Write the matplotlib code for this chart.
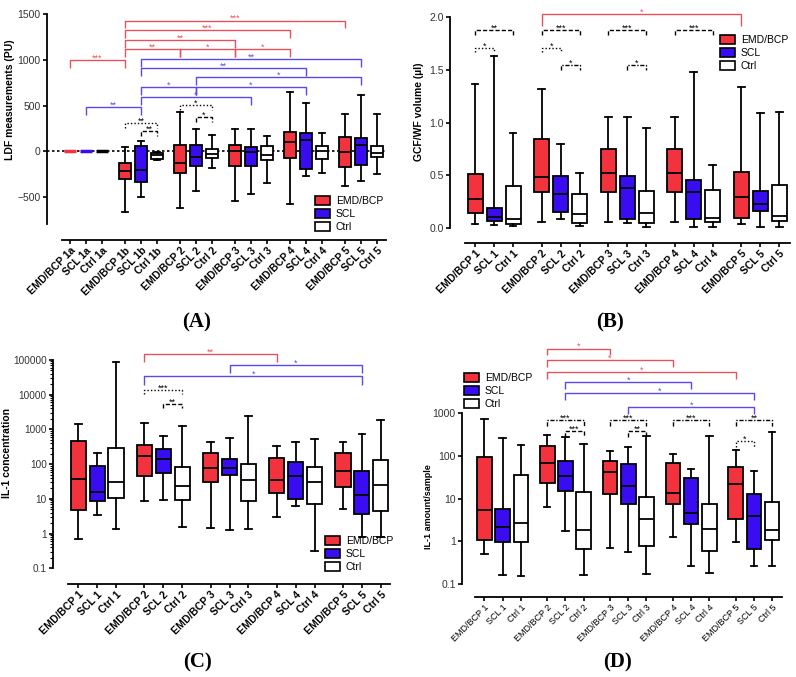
import matplotlib
matplotlib.use('Agg')
import matplotlib.pyplot as plt
from matplotlib.patches import Patch

plt.rcParams['font.family'] = ['Liberation Sans', 'DejaVu Sans']

RED = '#f2333d'
BLUE = '#3a0cf2'
RED_BR = '#e8525c'
BLUE_BR = '#5b4ae8'
COLS = [RED, BLUE, 'white']

# box stats: (whislo, q1, med, q3, whishi)
# panel A - LDF
a_groups = ['1a', '1b', '2', '3', '4', '5']
a_emd = [(0, 0, 0, 0, 0), (-663, -305, -215, -124, 47), (-623, -236, -127, 65, 429),
         (-540, -164, 0, 73, 247), (-569, -69, 98, 211, 644), (-377, -175, -11, 160, 407)]
a_scl = [(0, 0, 0, 0, 0), (-503, -334, -207, 58, 113), (-435, -164, -62, 73, 247),
         (-467, -164, -5, 47, 247), (-272, -193, 127, 204, 527), (-323, -153, 73, 142, 614)]
a_ctrl = [(0, 0, 0, 0, 0), (-95, -85, -35, -20, -5), (-182, -69, -25, 22, 178),
          (-340, -98, -36, 55, 164), (-233, -87, 0, 55, 204), (-251, -62, -18, 55, 407)]

# panel B - GCF/WF volume
b_groups = ['1', '2', '3', '4', '5']
b_emd = [(0.041, 0.139, 0.272, 0.513, 1.365), (0.054, 0.342, 0.48, 0.843, 1.317),
         (0.054, 0.342, 0.522, 0.752, 1.05), (0.054, 0.342, 0.522, 0.752, 1.05),
         (0.041, 0.098, 0.291, 0.528, 1.34)]
b_scl = [(0.032, 0.07, 0.104, 0.19, 1.63), (0.082, 0.152, 0.323, 0.49, 0.80),
         (0.051, 0.089, 0.38, 0.49, 1.05), (0.013, 0.089, 0.342, 0.459, 1.48),
         (0.013, 0.161, 0.231, 0.351, 1.09)]
b_ctrl = [(0.016, 0.041, 0.082, 0.40, 0.90), (0.022, 0.051, 0.133, 0.323, 0.52),
          (0.013, 0.051, 0.142, 0.348, 0.953), (0.013, 0.057, 0.098, 0.36, 0.595),
          (0.013, 0.07, 0.111, 0.411, 1.10)]

# panel C - IL-1 concentration
c_emd = [(0.69, 4.85, 37, 454, 1419), (8.96, 44.5, 173, 349, 1483), (1.45, 30, 80, 215, 444),
         (3.0, 14.8, 35.7, 155, 334), (5.0, 21.5, 63, 215, 435)]
c_scl = [(3.34, 8.96, 16.2, 90, 215), (9.3, 54, 139, 281, 646), (1.3, 48.5, 80, 145, 565),
         (6.2, 10, 46, 119, 435), (0.80, 3.73, 13.3, 64.5, 736)]
c_ctrl = [(1.36, 10.9, 30, 293, 85000), (1.55, 9.3, 23, 84, 1219), (1.36, 8.6, 35, 100, 2404),
          (0.32, 7.2, 30, 84, 541), (0.80, 4.45, 25, 130, 1807)]

# panel D - IL-1 amount/sample
d_emd = [(0.50, 1.09, 5.4, 93, 736), (6.3, 23.7, 67, 175, 316), (0.70, 12.9, 42, 75, 133),
         (1.24, 7.5, 13.8, 67, 111), (0.95, 3.25, 21.7, 54, 138)]
d_scl = [(0.16, 0.95, 2.18, 5.6, 269), (1.72, 15.1, 34, 75, 274), (0.56, 7.5, 19.4, 63.6, 160),
         (0.26, 2.48, 4.7, 30, 48.7), (0.26, 0.66, 3.8, 13.1, 45)]
d_ctrl = [(0.149, 0.98, 2.64, 36.5, 181), (0.16, 0.67, 1.79, 14.3, 187), (0.172, 0.79, 3.3, 10.7, 300),
          (0.18, 0.59, 1.96, 7.5, 300), (0.26, 1.06, 1.82, 8.5, 359)]

# significance brackets: (from index, to index, height, stars, colour, style)
a_brackets = [(0, 3, 1000, '***', 'r', '-'), (3, 6, 1120, '**', 'r', '-'), (6, 9, 1120, '*', 'r', '-'),
              (9, 12, 1120, '*', 'r', '-'), (3, 9, 1218, '**', 'r', '-'), (3, 12, 1320, '***', 'r', '-'),
              (3, 15, 1429, '***', 'r', '-'),
              (4, 16, 1011, '**', 'b', '-'), (4, 13, 909, '**', 'b', '-'), (7, 16, 811, '*', 'b', '-'),
              (4, 7, 702, '*', 'b', '-'), (7, 13, 702, '*', 'b', '-'), (4, 10, 593, '*', 'b', '-'),
              (1, 4, 484, '**', 'b', '-'),
              (3, 5, 313, '**', 'k', ':'), (4, 5, 222, '**', 'k', '--'),
              (6, 8, 509, '*', 'k', ':'), (7, 8, 375, '*', 'k', '--')]
b_brackets = [(3, 12, 2.025, '*', 'r', '-'),
              (0, 2, 1.874, '**', 'k', '--'), (0, 1, 1.71, '*', 'k', ':'),
              (3, 5, 1.874, '***', 'k', '--'), (3, 4, 1.71, '*', 'k', ':'), (4, 5, 1.544, '*', 'k', '-.'),
              (6, 8, 1.874, '***', 'k', '--'), (7, 8, 1.544, '*', 'k', '-.'),
              (9, 11, 1.874, '***', 'k', '--')]
c_brackets = [(3, 9, 1.48e5, '**', 'r', '-'), (7, 13, 7.2e4, '*', 'b', '-'), (3, 13, 3.34e4, '*', 'b', '-'),
              (3, 5, 1.33e4, '***', 'k', ':'), (4, 5, 5.4e3, '**', 'k', '--')]
d_brackets = [(3, 6, 33100, '*', 'r', '-'), (3, 9, 17800, '*', 'r', '-'), (3, 12, 9420, '*', 'r', '-'),
              (4, 10, 5320, '*', 'b', '-'), (4, 13, 2940, '*', 'b', '-'), (7, 13, 1380, '*', 'b', '-'),
              (3, 5, 697, '***', 'k', '-.'), (4, 5, 389, '***', 'k', '--'),
              (6, 8, 697, '***', 'k', '-.'), (7, 8, 389, '**', 'k', '--'),
              (9, 11, 697, '***', 'k', '-.'), (12, 14, 697, '**', 'k', '-.'),
              (12, 13, 228, '*', 'k', ':')]

BR_COL = {'r': RED_BR, 'b': BLUE_BR, 'k': 'black'}
LS = {'-': '-', ':': (0, (1, 1.5)), '--': (0, (3, 1.5)), '-.': (0, (3, 1.2, 1, 1.2))}

W, H = 796, 677
fig = plt.figure(figsize=(W / 100, H / 100), dpi=100)


def make_ax(left, right, top, bottom):
    ax = fig.add_axes([left / W, 1 - bottom / H, (right - left) / W, (bottom - top) / H])
    for s in ['top', 'right']:
        ax.spines[s].set_visible(False)
    for s in ['left', 'bottom']:
        ax.spines[s].set_linewidth(1.3)
    ax.tick_params(axis='y', direction='out', length=3, width=1.2, labelsize=7.5, labelcolor='#333333', pad=1.5)
    ax.tick_params(axis='x', direction='out', length=3, width=1.2, pad=1)
    ax.tick_params(axis='y', which='minor', length=2, width=0.8)
    return ax


def positions(groups, stride):
    return [g * stride + i for g in range(len(groups)) for i in range(3)]


def draw_boxes(ax, series, pos, width=0.8):
    k = 0
    for g in range(len(series[0])):
        for i in range(3):
            lo, q1, med, q3, hi = series[i][g]
            p = pos[k]
            k += 1
            if hi == lo:
                ax.hlines(med, p - width / 2, p + width / 2, color=COLS[i] if i < 2 else 'k', lw=2.5, zorder=3)
                continue
            st = dict(whislo=lo, q1=q1, med=med, q3=q3, whishi=hi)
            ax.bxp([st], positions=[p], widths=width, patch_artist=True, showfliers=False,
                   manage_ticks=False, capwidths=0.35,
                   boxprops=dict(facecolor=COLS[i], edgecolor='black', lw=1.3),
                   medianprops=dict(color='black', lw=1.3),
                   whiskerprops=dict(color='black', lw=1.3),
                   capprops=dict(color='black', lw=1.3))


def draw_brackets(ax, brackets, pos, drop, log=False):
    for i1, i2, y, txt, c, ls in brackets:
        col = BR_COL[c]
        d = drop[0] if c != 'k' else drop[1]
        leg = y / d if log else y - d
        x1, x2 = pos[i1], pos[i2]
        ax.plot([x1, x1, x2, x2], [leg, y, y, leg], color=col, lw=1.0, ls=LS[ls], clip_on=False,
                solid_capstyle='butt')
        ax.annotate(txt, ((x1 + x2) / 2, y), xytext=(0, -0.5), textcoords='offset points',
                    ha='center', va='baseline', color=col, fontsize=6.5)


def set_xlabels(ax, groups, pos, sep=' '):
    labels = []
    for g in groups:
        labels += ['EMD/BCP' + sep + g, 'SCL' + sep + g, 'Ctrl' + sep + g]
    ax.set_xticks(pos)
    ax.set_xticklabels(labels, rotation=45, ha='right', rotation_mode='anchor',
                       fontsize=7.5, fontweight='bold')


def add_legend(ax, x, y):
    handles = [Patch(facecolor=RED, edgecolor='black', lw=1.2, label='EMD/BCP'),
               Patch(facecolor=BLUE, edgecolor='black', lw=1.2, label='SCL'),
               Patch(facecolor='white', edgecolor='black', lw=1.2, label='Ctrl')]
    ax.legend(handles=handles, loc='upper left', bbox_to_anchor=(x / W, 1 - y / H),
              bbox_transform=fig.transFigure, frameon=False, fontsize=7.5,
              handlelength=1.4, handleheight=0.9, labelspacing=0.3, borderpad=0,
              borderaxespad=0, handletextpad=0.6)


# ---- panel A
axA = make_ax(47, 387, 14, 240)
posA = positions(a_groups, 3.4375)
draw_boxes(axA, [a_emd, a_scl, a_ctrl], posA, 0.78)
axA.axhline(0, color='black', lw=1.2, ls=(0, (1.5, 1.5)), zorder=1)
draw_brackets(axA, a_brackets, posA, (85, 55))
axA.set_xlim(-1.44, 19.81)
axA.set_ylim(-967, 1500)
axA.spines['left'].set_bounds(-793, 1500)
axA.spines['bottom'].set_bounds(-0.5, 19.75)
axA.set_yticks([-500, 0, 500, 1000, 1500])
set_xlabels(axA, a_groups, posA)
axA.set_ylabel('LDF measurements (PU)', fontsize=7.5, fontweight='bold')
axA.yaxis.set_label_coords((15 - 47) / 340, 0.62)
add_legend(axA, 315, 196)

# ---- panel B
axB = make_ax(450, 790, 5, 243)
posB = positions(b_groups, 3.5)
draw_boxes(axB, [b_emd, b_scl, b_ctrl], posB, 0.79)
draw_brackets(axB, b_brackets, posB, (0.11, 0.045))
axB.set_xlim(-1.32, 16.56)
axB.set_ylim(-0.142, 2.115)
axB.spines['left'].set_bounds(0, 2.0)
axB.spines['bottom'].set_bounds(-0.53, 16.56)
axB.set_yticks([0, 0.5, 1.0, 1.5, 2.0])
axB.set_yticklabels(['0.0', '0.5', '1.0', '1.5', '2.0'])
set_xlabels(axB, b_groups, posB)
axB.set_ylabel('GCF/WF volume (µl)', fontsize=7.5, fontweight='bold')
axB.yaxis.set_label_coords((424 - 450) / 340, 0.55)
add_legend(axB, 720, 35)

# ---- panel C
axC = make_ax(53, 390, 345, 584)
posC = positions(b_groups, 3.5)
axC.set_yscale('log')
draw_boxes(axC, [c_emd, c_scl, c_ctrl], posC, 0.81)
draw_brackets(axC, c_brackets, posC, (1.75, 1.3), log=True)
axC.set_xlim(-1.34, 16.49)
axC.set_ylim(0.0356, 2.68e5)
axC.spines['left'].set_bounds(0.1, 1e5)
axC.spines['bottom'].set_bounds(-0.55, 16.49)
c_ticks = [0.1, 1, 10, 100, 1000, 10000, 100000]
axC.set_yticks(c_ticks)
axC.set_yticklabels(['0.1', '1', '10', '100', '1000', '10000', '100000'])
axC.set_yticks([m * t for t in c_ticks[:-1] for m in range(2, 10)], minor=True)
axC.set_yticklabels([], minor=True)
axC.tick_params(axis='y', labelsize=7.2)
set_xlabels(axC, b_groups, posC)
axC.set_ylabel('IL-1 concentration', fontsize=7.5, fontweight='bold')
axC.yaxis.set_label_coords((12 - 53) / 337, 0.55)
add_legend(axC, 325, 536)

# ---- panel D
axD = make_ax(462, 782, 340, 597)
posD = positions(b_groups, 3.45)
axD.set_yscale('log')
draw_boxes(axD, [d_emd, d_scl, d_ctrl], posD, 0.8)
draw_brackets(axD, d_brackets, posD, (1.44, 1.38), log=True)
axD.set_xlim(-1.23, 16.34)
axD.set_ylim(0.049, 10 ** 4.72)
axD.spines['left'].set_bounds(0.1, 1000)
axD.spines['bottom'].set_bounds(-0.5, 16.34)
axD.set_yticks([0.1, 1, 10, 100, 1000])
axD.set_yticklabels(['0.1', '1', '10', '100', '1000'])
axD.set_yticks([], minor=True)
set_xlabels(axD, b_groups, posD)
for t in axD.get_xticklabels():
    t.set_fontsize(6.5)
    t.set_fontweight('normal')
axD.set_ylabel('IL-1 amount/sample', fontsize=6.5, fontweight='bold')
axD.yaxis.set_label_coords((433 - 462) / 320, 0.35)
add_legend(axD, 464, 373)

# panel letters
for txt, x, y in [('(A)', 197, 322), ('(B)', 610, 322), ('(C)', 197, 662), ('(D)', 617, 662)]:
    fig.text(x / W, 1 - y / H, txt, ha='center', va='center', fontsize=15,
             fontweight='bold', family=['Liberation Serif', 'DejaVu Serif'])

fig.savefig('out.png', dpi=100)
